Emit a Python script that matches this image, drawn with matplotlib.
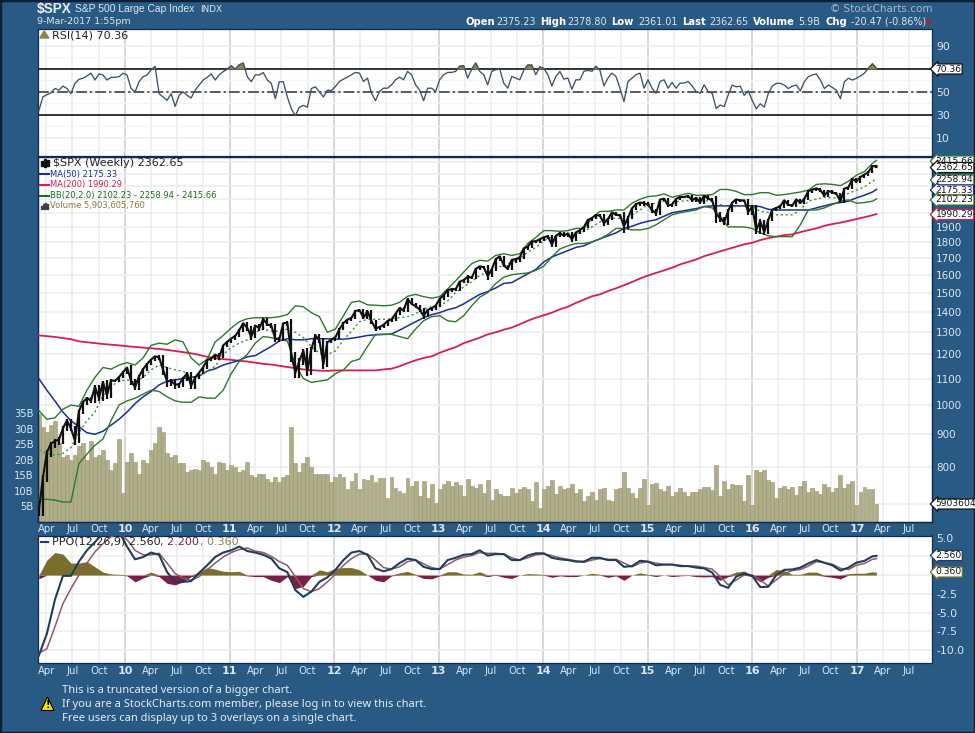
import numpy as np
import pandas as pd
import matplotlib
matplotlib.use('Agg')
import matplotlib.pyplot as plt
import matplotlib.dates as mdates
from matplotlib.patches import Polygon, Rectangle

W, H = 975, 733

# biweekly values
close = [683, 769, 843, 870, 878, 883, 919, 946, 919, 880, 979, 1010, 1026, 1016, 1068, 1025, 1087, 1036, 1093, 1091, 1106, 1126,
         1145, 1092, 1066, 1109, 1138, 1160, 1178, 1192, 1187, 1136, 1089, 1091, 1076, 1078, 1102, 1121, 1072, 1104, 1125, 1146, 1176, 1183, 1199, 1189, 1240, 1256,
         1271, 1283, 1310, 1343, 1321, 1279, 1332, 1319, 1363, 1337, 1331, 1270, 1268, 1343, 1345, 1199, 1123, 1173, 1216, 1131, 1224, 1285, 1263, 1158, 1255, 1265,
         1277, 1315, 1344, 1361, 1369, 1404, 1408, 1370, 1403, 1353, 1317, 1325, 1335, 1354, 1362, 1390, 1418, 1406, 1465, 1440, 1428, 1411, 1379, 1409, 1418, 1430,
         1466, 1486, 1513, 1519, 1518, 1560, 1569, 1588, 1582, 1633, 1649, 1643, 1592, 1631, 1692, 1709, 1655, 1633, 1688, 1692, 1703, 1759, 1770, 1804, 1805, 1818,
         1831, 1838, 1783, 1839, 1859, 1841, 1857, 1816, 1863, 1878, 1900, 1949, 1962, 1985, 1978, 1925, 1955, 2003, 1985, 1982, 1906, 1964, 2032, 2063, 2075, 2070,
         2058, 2019, 1995, 2097, 2104, 2053, 2061, 2102, 2117, 2116, 2126, 2092, 2110, 2077, 2127, 2104, 2091, 1989, 1961, 1932, 2014, 2075, 2099, 2089, 2092, 2006,
         2044, 1880, 1940, 1865, 1948, 2022, 2035, 2048, 2092, 2057, 2052, 2099, 2071, 2103, 2162, 2174, 2184, 2169, 2128, 2164, 2153, 2141, 2085, 2182, 2192, 2258, 2239,
         2275, 2295, 2316, 2367, 2363]
# how far the bar sticks out past open/close, percent
wick = [2, 2, 1.5, 1.5, 1.5, 1.5, 1.5, 1, 1, 1.5, 1, 1, 1, 1, 1, 1, 1, 1.5, 1, 0.5, 0.5, 0.5,
        0.5, 1.5, 1, 1, 0.5, 0.5, 0.5, 0.5, 1, 2, 2, 1.5, 1.5, 1, 1, 1, 1, 1, 0.5, 0.5, 0.5, 0.5, 0.5, 1, 0.5, 0.5,
        0.5, 0.5, 0.5, 0.5, 1, 1, 0.5, 1, 0.5, 0.5, 1, 1, 1, 0.5, 1, 2.5, 2, 2, 1.5, 2, 1.5, 1, 1, 1.5, 1, 0.5,
        0.5, 0.5, 0.5, 0.5, 0.5, 0.5, 0.5, 0.5, 0.5, 1, 1, 0.5, 0.5, 0.5, 0.5, 0.5, 0.5, 0.5, 0.5, 0.5, 0.5, 1, 1, 0.5, 0.5, 0.5,
        0.5, 0.5, 0.5, 0.5, 0.5, 0.5, 0.5, 1, 0.5, 0.5, 0.5, 0.5, 1.5, 0.5, 0.5, 0.5, 0.5, 0.5, 0.5, 1, 1, 0.5, 0.5, 0.5, 0.5, 0.5,
        0.5, 0.5, 1, 1, 0.5, 0.5, 0.5, 1, 0.5, 0.5, 0.5, 0.5, 0.5, 0.5, 0.5, 1, 0.5, 0.5, 0.5, 0.5, 2.5, 1, 0.5, 0.5, 0.5, 1,
        0.5, 1, 1, 0.5, 0.5, 0.5, 0.5, 0.5, 0.5, 0.5, 0.5, 0.5, 0.5, 0.5, 0.5, 0.5, 0.5, 3, 1.5, 1, 1, 0.5, 0.5, 0.5, 0.5, 1,
        1, 1.5, 1.5, 1, 0.5, 0.5, 0.5, 0.5, 0.5, 0.5, 0.5, 0.5, 0.5, 0.5, 0.5, 0.5, 0.5, 0.5, 0.5, 0.5, 0.5, 0.5, 0.5, 0.5, 0.5, 0.5, 0.5,
        0.5, 0.5, 0.5, 0.5, 0.5]
volume = [34.8, 30.5, 29, 31.3, 32.7, 25.5, 21, 21.7, 20, 21.7, 24.4, 25.5, 20, 26, 21, 21.7, 23.3, 20, 16.7, 18.9, 26.7, 9.5, 19.4, 22.2, 19.4,
          15.6, 20, 18.9, 23.3, 25.5, 30.5, 28.9, 22.2, 21.1, 21.7, 18.9, 18.9, 16.1, 16.7, 17.2, 16.7, 20, 19.4, 17.8, 15.6, 19.4, 18.9, 16.7, 18.3, 17.8,
          16.1, 16.7, 19.4, 15, 14.4, 15.6, 15.6, 13.9, 12.8, 14.4, 12.8, 14.4, 15, 30.5, 18.9, 16.1, 18.9, 21.1, 17.8, 15.6, 15.6, 15.6, 15.6, 12.8, 14.4,
          15.6, 14.4, 10.6, 13.3, 15.9, 10.6, 13.9, 13.6, 15, 12.8, 14.2, 14.2, 7.8, 14.4, 11.1, 10, 9.4, 14.2, 11.7, 13.3, 8.3, 13.3, 7.8, 12.2, 6.1,
          10.6, 12.2, 13.3, 11.7, 12.8, 12, 8.3, 13.9, 11.7, 11.1, 12.2, 9.4, 13.6, 7.2, 10.6, 9.1, 8.3, 8.3, 11.1, 9.4, 10.6, 11.3, 10.6, 6.7, 12.8,
          4.4, 10.6, 11.7, 13.6, 8.9, 11.7, 10.6, 11.1, 12.2, 9.4, 10.6, 6.7, 8.3, 9.8, 7.2, 10.6, 11.1, 7.2, 6.7, 10.6, 11.1, 16.1, 11.1,
          9.4, 7.8, 11.1, 13.9, 5.6, 12.2, 12.6, 10.6, 10, 11.7, 8.3, 9.8, 10.9, 9.8, 8.3, 9.8, 9.8, 10.6, 11.3, 11.3, 10.2, 18.3, 8.3, 13.3, 10.6,
          12.2, 12, 12, 6.7, 15, 5.6, 16.7, 16.1, 16.7, 13.6, 13, 7.6, 11.1, 11.7, 10.6, 11.3, 8.7, 11.7, 13.3, 9.8, 11.1, 10, 9.1, 12.2, 11.3,
          9.8, 11.1, 15, 11.1, 12.2, 13.3, 5.6, 9.8, 11.3, 10.6, 10.6, 5.8]
rsi = [33.8, 45.6, 47.6, 49, 53, 51.5, 55, 53, 48.5, 57.4, 60.9, 61.8, 63.8, 66.2, 60.3, 65.6, 64.7, 60.3, 62.6, 62.6, 63.2, 66.2, 64.7, 53, 50,
       58.8, 63.2, 64.7, 69.1, 72, 48.5, 45.6, 42.6, 48.5, 37.4, 47, 50, 47, 44.7, 51.5, 55.9, 60.3, 62.6, 65.6, 60.3, 64.7, 67.6, 69.7, 72.6, 69.7,
       73.5, 75, 63.2, 58.8, 64.7, 64.7, 66.8, 60.3, 57.4, 44.1, 58.8, 58.8, 45.6, 35.3, 29.4, 36.8, 38.2, 36.8, 52.9, 54.4, 50, 45.6, 51.5,
       51.2, 54.7, 59, 61.1, 62.8, 64.9, 66.9, 66.3, 59, 62, 48.8, 42.4, 50.3, 53.2, 53.2, 56.1, 60.5, 62.8, 60.5, 67.8, 64.9, 56.1, 51.7, 42.4, 53.2,
       53.2, 50.3, 60.5, 64.9, 66.9, 66.9, 67.8, 72.2, 72.7, 62, 69.8, 75.1, 67.8, 64.9, 56.1, 67.8, 69.2, 69.8, 57.6, 53.2, 63.4, 62, 60.5, 68.7, 73.3,
       73.3, 64.9, 71.6, 70.4, 64.9, 55.2, 63.4, 67.8, 61.1, 62, 52.3, 60.5, 60.5, 67.8, 68.7, 67.8, 72.2, 68.7, 55.2, 62, 66.3, 63.4, 53.2, 41.5, 59,
       62, 64.9, 66.3, 53.2, 60.5, 53.2, 48.8, 59, 60.5, 53.2, 58.2, 53.2, 57.6, 57.6, 59, 55.2, 50.3, 48.8, 56.1, 50.3, 48.8, 35.7, 38.6, 37.2, 47.4,
       55.9, 54.4, 55, 47, 50.9, 42.6, 35.3, 39.7, 36.8, 48.5, 55, 57.4, 57.4, 55.9, 52.9, 55, 55.9, 50.9, 58.8, 63.2, 64.7, 65.6, 60.3, 52.9, 55.9,
       53.8, 51.5, 44.1, 58.8, 61.8, 60.3, 61.8, 63.8, 66.2, 70.6, 74.4, 70.36]

# four-weekly values
bb_upper = [980, 950, 955, 985, 1000, 995, 1055, 1105, 1145, 1138, 1155, 1165, 1155, 1185, 1240, 1250, 1245, 1265, 1255, 1185, 1155, 1180, 1255, 1285, 1320, 1350, 1365, 1370, 1370, 1370, 1375, 1385, 1430, 1425, 1395, 1375, 1300,
            1315, 1380, 1448, 1455, 1435, 1433, 1430, 1433, 1448, 1480, 1490, 1478, 1470, 1478, 1520, 1565, 1615, 1665, 1685, 1680, 1715, 1725, 1715, 1725, 1790, 1830, 1875, 1875, 1870, 1875, 1890, 1890, 1960, 2010, 2010, 2020, 2020, 2070, 2100, 2120, 2125, 2140, 2115, 2130, 2145, 2130,
            2130, 2135, 2175, 2175, 2160, 2135, 2135, 2150, 2150, 2130, 2135, 2145, 2155, 2170, 2215, 2220, 2215, 2205, 2240, 2290, 2320, 2390, 2415.66]
bb_mid = [850, 840, 835, 840, 858, 905, 945, 975, 1035, 1070, 1090, 1095, 1085, 1105, 1135, 1155, 1145, 1135, 1130, 1105, 1110, 1130, 1150, 1200, 1230, 1250, 1265, 1300, 1315, 1305, 1305, 1315, 1300, 1275, 1235, 1205, 1200,
          1215, 1265, 1305, 1350, 1362, 1362, 1362, 1365, 1370, 1375, 1390, 1415, 1425, 1430, 1455, 1500, 1530, 1560, 1595, 1615, 1645, 1650, 1675, 1695, 1735, 1765, 1810, 1830, 1840, 1845, 1850, 1870, 1900, 1935, 1960, 1960, 1960, 1985, 2020, 2060, 2070, 2085, 2075, 2085, 2090, 2085,
          2090, 2085, 2060, 2045, 2045, 2050, 2045, 2010, 2003, 1985, 1985, 1985, 2020, 2085, 2100, 2115, 2110, 2110, 2145, 2170, 2195, 2240, 2258.94]
bb_lower = [710, 712, 710, 705, 705, 810, 838, 865, 885, 945, 1000, 1015, 1025, 1040, 1055, 1050, 1030, 1015, 1010, 1010, 1030, 1025, 1025, 1055, 1120, 1170, 1200, 1250, 1280, 1275, 1265, 1260, 1155, 1100, 1085, 1090, 1095,
            1120, 1135, 1170, 1180, 1235, 1290, 1290, 1290, 1280, 1270, 1315, 1355, 1375, 1380, 1355, 1350, 1380, 1430, 1475, 1500, 1550, 1585, 1600, 1605, 1610, 1625, 1650, 1705, 1755, 1775, 1790, 1790, 1800, 1820, 1850, 1890, 1890, 1880, 1880, 1890, 1915, 1950, 1985, 2000, 2010, 2020,
            2045, 2035, 1975, 1900, 1900, 1900, 1890, 1860, 1840, 1835, 1835, 1835, 1915, 2020, 2020, 2035, 2060, 2085, 2095, 2070, 2075, 2085, 2102.23]
ma50 = [1100, 1055, 1015, 975, 945, 925, 905, 900, 910, 930, 950, 975, 1005, 1030, 1050, 1075, 1090, 1095, 1100, 1105, 1110, 1130, 1140, 1155, 1165, 1175, 1190, 1195, 1215, 1235, 1260, 1270, 1265, 1265, 1270, 1270, 1270,
        1268, 1268, 1272, 1278, 1285, 1288, 1290, 1292, 1310, 1330, 1350, 1370, 1385, 1395, 1410, 1420, 1440, 1465, 1490, 1505, 1525, 1550, 1555, 1580, 1605, 1630, 1675, 1705, 1725, 1745, 1765, 1775, 1800, 1820, 1840, 1860, 1890, 1905, 1925, 1940, 1950, 1975, 2000, 2010, 2020, 2030,
        2045, 2050, 2050, 2050, 2050, 2050, 2050, 2045, 2025, 2020, 2020, 2020, 2020, 2020, 2035, 2050, 2065, 2075, 2085, 2110, 2130, 2155, 2175.33]
ma200 = [1285, 1282, 1278, 1273, 1268, 1258, 1254, 1250, 1246, 1243, 1240, 1236, 1233, 1230, 1227, 1224, 1220, 1215, 1210, 1205, 1198, 1190, 1184, 1180, 1177, 1173, 1170, 1165, 1160, 1157, 1152, 1147, 1142, 1137, 1134, 1132, 1131,
         1133, 1133, 1133, 1133, 1133, 1133, 1137, 1140, 1150, 1163, 1175, 1185, 1192, 1207, 1220, 1232, 1250, 1262, 1275, 1290, 1300, 1312, 1322, 1338, 1355, 1370, 1382, 1395, 1412, 1425, 1445, 1462, 1480, 1490, 1508, 1523, 1540, 1558, 1578, 1595, 1610, 1625, 1640, 1660, 1675, 1690,
         1710, 1725, 1740, 1755, 1770, 1785, 1795, 1812, 1825, 1835, 1845, 1850, 1865, 1878, 1890, 1908, 1920, 1930, 1942, 1955, 1968, 1982, 1990.29]
ppo_line = [-10.7, -7.8, -3.3, -0.1, -0.1, 1.8, 3.3, 4.4, 5.6, 6, 5.8, 3.8, 2.1, 2.4, 3, 2.7, 0.4, -0.9, -0.9, -0.8, 0.3, 1.3, 2.4, 3, 3.3, 3.8, 3.2, 3, 2.7, 2.2, 0.9, 0.4, -2, -2.9, -2.2, -0.9, -0.3,
            0.7, 2, 3, 3.2, 2.7, 0.9, 0.5, 0.8, 1.6, 2.2, 2, 1.1, 0.8, 0.8, 2, 2.3, 2.7, 2.8, 3.3, 2.6, 2.8, 2.8, 2, 2, 2.6, 2.9, 2.9, 2.3, 2.1, 2, 1.8, 1.8, 2.3, 2.3, 2, 2, 1.1, 1.2, 1.9, 1.8, 1.3, 1.4, 1.4, 1.2, 1.2, 1, 0.9, 0.35, -1.3, -1.7,
            -0.2, 0.2, -0.1, -1.6, -1.55, 0, 0.7, 0.75, 1, 1.55, 2, 1.65, 1.3, 0.6, 1, 1.65, 1.9, 2.5, 2.56]
ppo_signal = [-10.4, -9.8, -6.9, -3.8, -1.8, 0, 1.6, 3.1, 4.2, 5.1, 5.6, 4.7, 3.3, 2.7, 2.7, 2.9, 1.6, 0.2, -0.4, -0.7, -0.2, 0.7, 1.6, 2.4, 3, 3.4, 3.6, 3.2, 3, 2.5, 1.8, 1.3, -0.2, -1.8, -2.2, -1.8, -0.9,
              0.1, 1.3, 2.2, 2.8, 2.8, 2, 1, 0.8, 1.1, 1.8, 2, 1.5, 1, 0.8, 1.4, 2, 2.4, 2.6, 3, 2.9, 2.9, 2.8, 2.3, 2, 2.3, 2.7, 2.8, 2.6, 2.3, 2.1, 1.9, 1.7, 2, 2.2, 2.1, 2.1, 1.6, 1.1, 1.6, 1.8, 1.6, 1.4, 1.4, 1.3, 1.2, 1.2, 1, 0.8, -0.2, -1.3,
              -0.65, 0, 0, -0.65, -1.45, -0.65, 0.2, 0.6, 0.75, 1.2, 1.8, 1.65, 1.45, 0.9, 0.75, 1.3, 1.55, 2.1, 2.2]
ppo_hist = [-0.5, 2, 3, 2.8, 1.6, 1.6, 1.8, 1.1, 0.4, 0.15, 0.1, -0.1, -0.9, -0.4, 0.4, -0.2, -1.1, -1.3, -0.9, -0.2, 0.4, 1, 0.8, 0.5, 0.45, 0.5, -0.1, -0.2, -0.2, -0.7, -1, -0.2, -1.8, -1.5, -0.2, 0.7, 0.45,
            0.9, 1, 1, 0.7, 0, -0.7, -0.9, -0.1, 0.3, 0.5, 0.1, -0.45, -0.5, -0.1, 0.45, 0.45, 0.15, 0.1, 0.45, -0.2, 0.1, -0.3, -0.45, 0, 0.2, 0.15, 0.1, -0.3, -0.1, -0.2, -0.2, 0, 0.25, 0.1, -0.3, -0.1, -0.7, 0, 0.3, 0.1, -0.2, 0, -0.2, -0.1, -0.05, -0.2, -0.25, -0.2, -0.7, -0.2,
            0.4, 0.55, -0.2, -0.9, -0.3, 0.75, 0.6, 0.1, 0.1, 0.4, 0.4, -0.15, -0.3, -0.5, 0.2, 0.25, 0.25, 0.45, 0.36]

dates = pd.date_range('2009-03-06', periods=len(close), freq='14D')
dates4 = dates[list(range(0, len(close), 2)) + [len(close) - 1]]

BG = '#285A84'
NAVY = '#0E2C50'
TXT = '#DCE6EE'
LINE = '#3D5268'


def rect(x0, y0, x1, y1):
    return [x0 / W, 1 - y1 / H, (x1 - x0) / W, (y1 - y0) / H]


def ftext(x, y, s, **kw):
    kw.setdefault('color', TXT)
    kw.setdefault('va', 'center')
    return fig.text(x / W, 1 - y / H, s, **kw)


def tag(y, s, ec, size=6.6):
    ftext(935.5, y, s, color='#111111', fontsize=size, ha='left', zorder=20,
          bbox=dict(boxstyle='larrow,pad=0.06', fc='white', ec=ec, lw=0.9))


fig = plt.figure(figsize=(W / 100, H / 100), dpi=100, facecolor=BG)
fig.patches.append(Rectangle((0, 0), 1, 1, transform=fig.transFigure, fill=False, ec='#0A2038', lw=2.5))

ax_rsi = fig.add_axes(rect(38, 28.5, 932, 155.5))
ax_vol = fig.add_axes(rect(38, 157, 932, 522))
ax_px = fig.add_axes(rect(38, 157, 932, 522), sharex=ax_vol)
ax_ppo = fig.add_axes(rect(38, 535.5, 932, 663))

xlim = (mdates.date2num(pd.Timestamp('2009-03-03')), mdates.date2num(pd.Timestamp('2017-09-20')))
quarters = pd.date_range('2009-04-01', '2017-07-01', freq='3MS')

for ax in (ax_rsi, ax_vol, ax_ppo):
    ax.set_facecolor('white')
    ax.set_xlim(xlim)
    for q in quarters:
        ax.axvline(q, color='#CDCDCD' if q.month == 1 else '#ECECEC', lw=1.1, zorder=0)
for ax in (ax_rsi, ax_vol, ax_px, ax_ppo):
    for s in ax.spines.values():
        s.set_color(NAVY)
        s.set_linewidth(0.9)
    ax.tick_params(length=0)
ax_px.patch.set_alpha(0)
ax_px.set_xlim(xlim)

# RSI
ax_rsi.set_ylim(-5.2, 105)
for v in range(10, 100, 20):
    ax_rsi.axhline(v, color='#EDEDED', lw=1.1, zorder=0)
    ax_rsi.axhline(v - 10, color='#F4F4F4', lw=0.9, zorder=0)
ax_rsi.axhline(70, color='black', lw=1.1, zorder=2)
ax_rsi.axhline(30, color='black', lw=1.1, zorder=2)
ax_rsi.axhline(50, color='#333333', lw=1.1, ls=(0, (7, 2, 1.5, 2)), zorder=2)
ax_rsi.fill_between(dates, rsi, 70, where=np.array(rsi) > 70, interpolate=True, color='#8C8550', zorder=2)
ax_rsi.plot(dates, rsi, color=LINE, lw=0.95, zorder=3)
ax_rsi.set_xticks([])
ax_rsi.yaxis.tick_right()
ax_rsi.set_yticks([10, 30, 50, 70, 90])
ax_rsi.set_yticklabels(['10', '30', '50', '', '90'], color=TXT, fontsize=7.8)
ax_rsi.tick_params(axis='y', pad=3)

# price, log scale
ax_vol.set_ylim(0, 117.7)
ax_vol.bar(dates, volume, width=13.5, color='#B0AE88', ec='#97956F', lw=0.4, zorder=1)
ax_vol.set_yticks([5, 10, 15, 20, 25, 30, 35])
ax_vol.set_yticklabels([f'{v}B' for v in [5, 10, 15, 20, 25, 30, 35]], color=TXT, fontsize=7.2)
ax_vol.tick_params(axis='y', pad=3)

ax_px.set_yscale('log')
ax_px.set_ylim(656, 2445)
price_grid = [700, 800, 900, 1000, 1100, 1200, 1300, 1400, 1500, 1600, 1700, 1800, 1900, 2000, 2100, 2200, 2300, 2400]
for v in price_grid:
    ax_vol.axhline((np.log10(v / 656) / np.log10(2445 / 656)) * 117.7, color='#ECECEC', lw=1.1, zorder=0)
ax_px.yaxis.tick_right()
ax_px.set_yticks([800, 900, 1000, 1100, 1200, 1300, 1400, 1500, 1600, 1700, 1800, 1900])
ax_px.set_yticklabels([str(v) for v in [800, 900, 1000, 1100, 1200, 1300, 1400, 1500, 1600, 1700, 1800, 1900]], color=TXT, fontsize=7.5)
ax_px.yaxis.set_minor_locator(matplotlib.ticker.NullLocator())
ax_px.tick_params(axis='y', pad=3)

ax_px.plot(dates4, ma200, color='#D81E50', lw=1.3, zorder=3)
ax_px.plot(dates4, ma50, color='#1C2C9C', lw=1.1, zorder=3)
ax_px.plot(dates4, bb_upper, color='#2A7A2A', lw=1.0, zorder=3)
ax_px.plot(dates4, bb_lower, color='#2A7A2A', lw=1.0, zorder=3)
ax_px.plot(dates4, bb_mid, color='#3E8E3E', lw=1.0, ls=(0, (1.5, 2)), zorder=3)
opens = [close[0]] + close[:-1]
lows = [min(o, c) * (1 - r / 100) for o, c, r in zip(opens, close, wick)]
highs = [max(o, c) * (1 + r / 200) for o, c, r in zip(opens, close, wick)]
ax_px.plot(dates[-1], close[-1], marker='s', ms=3.5, color='#F5E642', mec='none', zorder=3.5)
ax_px.vlines(dates, lows, highs, color='#101010', lw=1.6, zorder=4)
ax_px.plot(dates, close, color='#101010', lw=1.5, zorder=4)
plt.setp(ax_px.get_xticklabels(), visible=False)

# PPO
ax_ppo.set_ylim(-11.7, 5.27)
for v in [-10, -7.5, -5, -2.5, 0, 2.5]:
    ax_ppo.axhline(v, color='#ECECEC', lw=1.1, zorder=0)
pos = np.array(ppo_hist)
ax_ppo.fill_between(dates4, np.clip(pos, 0, None), 0, color='#7A6E2C', zorder=2, lw=0)
ax_ppo.fill_between(dates4, np.clip(pos, None, 0), 0, color='#7C1E48', zorder=2, lw=0)
ax_ppo.plot(dates4, ppo_signal, color='#8E5A66', lw=1.1, zorder=3)
ax_ppo.plot(dates4, ppo_line, color='#1E3E5C', lw=1.5, zorder=4)
ax_ppo.yaxis.tick_right()
ax_ppo.set_yticks([-10, -7.5, -5, -2.5, 5])
ax_ppo.set_yticklabels(['-10.0', '-7.5', '-5.0', '-2.5', '5.0'], color=TXT, fontsize=7.8)
ax_ppo.tick_params(axis='y', pad=3)

# month / year labels under the price and PPO panels
for ax in (ax_vol, ax_ppo):
    ax.set_xticks(quarters)
    ax.set_xticklabels([])
ax_px.set_xticks([])
for q in quarters:
    xf = (mdates.date2num(q) - xlim[0]) / (xlim[1] - xlim[0]) * 894 + 38
    for y in (528.5, 670.5):
        if q.month == 1:
            ftext(xf, y, f'{q.year % 100}', ha='center', fontsize=8, fontweight='bold')
        else:
            ftext(xf, y, q.strftime('%b'), ha='center', fontsize=7.3)

# header
ftext(37, 9.5, '$SPX', fontsize=9.8, fontweight='bold', color='#E8EEF3', family='Liberation Sans')
ftext(75, 9.5, 'S&P 500 Large Cap Index', fontsize=7.4, family='Liberation Sans')
ftext(200, 9.5, 'INDX', fontsize=6.4)
ftext(37, 22, '9-Mar-2017 1:55pm', fontsize=6.8)
ftext(932, 9, '\u00a9 StockCharts.com', fontsize=7.5, ha='right', color='#A8B8C6')
hdr_bold = [(465, 'Open'), (540, 'High'), (611, 'Low'), (682, 'Last'), (753, 'Volume'), (826, 'Chg')]
hdr_vals = [(496, '2375.23'), (567, '2378.80'), (638, '2361.01'), (709, '2362.65'), (798, '5.9B'), (851, '-20.47 (-0.86%)')]
for x, s in hdr_bold:
    ftext(x, 22, s, fontsize=7.2, fontweight='bold', color='white')
for x, s in hdr_vals:
    ftext(x, 22, s, fontsize=6.9)
fig.patches.append(Polygon([[925 / W, 1 - 20.5 / H], [931 / W, 1 - 20.5 / H], [928 / W, 1 - 24 / H]],
                           transform=fig.transFigure, color='#A81E3C'))

# panel legends
ftext(52, 35, 'RSI(14) 70.36', fontsize=8.0, color='#222222')
fig.patches.append(Polygon([[40 / W, 1 - 38 / H], [44 / W, 1 - 31 / H], [49 / W, 1 - 38 / H]],
                           transform=fig.transFigure, color='#8C8550', zorder=5))
ftext(53, 163, '$SPX (Weekly) 2362.65', fontsize=8.0, color='#222222')
for i, h in enumerate([5, 8, 6]):
    fig.patches.append(Rectangle(((41 + i * 3) / W, 1 - (163 + h / 2) / H), 2 / W, h / H, transform=fig.transFigure,
                                 color='#111111', zorder=5))
for y, s, c in [(174, 'MA(50) 2175.33', '#1C2C9C'), (184.5, 'MA(200) 1990.29', '#D81E50'),
                (195.5, 'BB(20,2.0) 2102.23 - 2258.94 - 2415.66', '#1C6E1C'), (205.5, 'Volume 5,903,605,760', '#847A40')]:
    ftext(50.5, y, s, fontsize=6.0, color=c)
    if not s.startswith('Volume'):
        fig.add_artist(plt.Line2D([40 / W, 49 / W], [1 - y / H, 1 - y / H], color=c, lw=1.5))
for i, h in enumerate([3, 5, 6, 4]):
    fig.patches.append(Rectangle(((40.5 + i * 2) / W, 1 - 208.5 / H), 1.6 / W, h / H, transform=fig.transFigure,
                                 color='#404040', zorder=5))
ftext(52, 542, 'PPO(12,26,9) 2.560', fontsize=8.0, color='#222222')
ftext(160, 542, ', 2.200', fontsize=8.0, color='#7C1E48')
ftext(200, 542, ', 0.360', fontsize=8.0, color='#8C8550')
fig.add_artist(plt.Line2D([41 / W, 48 / W], [1 - 542 / H, 1 - 542 / H], color='#1E3E5C', lw=1.5))

# value tags on the right
tag(161, '2415.66', '#2A7A2A')
tag(167.5, '2362.65', '#111111')
tag(180, '2258.94', '#2A7A2A')
tag(190, '2175.33', '#1C2C9C')
tag(200, '2102.23', '#2A7A2A')
tag(214.5, '1990.29', '#D81E50')
tag(69, '70.36', '#111111')
tag(504, '5903604', '#111111')
tag(555.5, '2.560', '#1E3E5C')
tag(572, '0.360', '#7A6E2C')

# footer
fig.patches.append(Polygon([[41 / W, 1 - 710.5 / H], [47.5 / W, 1 - 697 / H], [54 / W, 1 - 710.5 / H]],
                           transform=fig.transFigure, fc='#F7E000', ec='black', lw=0.8, zorder=5))
ftext(47.5, 705, '!', fontsize=7, fontweight='bold', color='black', ha='center', zorder=6)
for y, s in [(691, 'This is a truncated version of a bigger chart.'),
             (704.5, 'If you are a StockCharts.com member, please log in to view this chart.'),
             (718, 'Free users can display up to 3 overlays on a single chart.')]:
    ftext(62, y, s, fontsize=8, color='#E4ECF2', family='Noto Sans')

fig.savefig('out.png', dpi=100, facecolor=BG)
